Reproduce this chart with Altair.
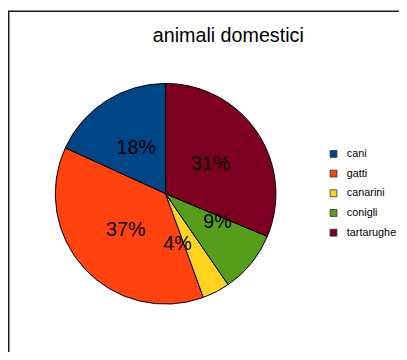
import altair as alt
import pandas as pd

# legend order
categories = ["cani", "gatti", "canarini", "conigli", "tartarughe"]
values = [18, 37, 4, 9, 31]
colors = ["#004586", "#ff420e", "#ffd320", "#579d1c", "#7e0021"]
# drawing order clockwise from 12 o'clock
draw_order = [5, 4, 3, 2, 1]

df = pd.DataFrame({"animale": categories, "valore": values, "ord": draw_order})

CX, CY, R = 160, 186, 112

base = alt.Chart(df).transform_joinaggregate(
    totale="sum(valore)"
).transform_calculate(
    pct="format(datum.valore / datum.totale, '.0%')"
)

theta = alt.Theta("valore:Q", stack=True)
order = alt.Order("ord:Q", sort="ascending")

pie = base.mark_arc(outerRadius=R, stroke="#000000", strokeWidth=1).encode(
    theta=theta,
    order=order,
    x=alt.value(CX),
    y=alt.value(CY),
    color=alt.Color(
        "animale:N",
        scale=alt.Scale(domain=categories, range=colors),
        sort=categories,
        legend=alt.Legend(
            title=None,
            orient="none",
            legendX=325,
            legendY=140,
            symbolType="square",
            symbolSize=49,
            symbolStrokeColor="#333333",
            symbolStrokeWidth=0.8,
            labelFont="Liberation Sans",
            labelFontSize=11,
            labelColor="#000000",
            labelOffset=8,
            rowPadding=8,
            padding=0,
        ),
    ),
)

# small label nudges (as LibreOffice moved the two narrow slices' labels apart)
labels = base.mark_text(
    radius=55, fontSize=20, font="Liberation Sans", color="#000000",
    align="center", baseline="middle",
    dx=alt.ExprRef("datum.animale === 'conigli' ? 10 : (datum.animale === 'canarini' ? -13 : 0)"),
    dy=alt.ExprRef("datum.animale === 'conigli' ? -6 : (datum.animale === 'canarini' ? 2 : 0)"),
).encode(
    theta=theta,
    order=order,
    x=alt.value(CX),
    y=alt.value(CY),
    text="pct:N",
)

border = alt.Chart(pd.DataFrame({"b": [0]})).mark_rect(
    fill=None, stroke="#1a1a1a", strokeWidth=1.5
).encode(
    x=alt.value(0.75), y=alt.value(0.75), x2=alt.value(800), y2=alt.value(800)
)

chart = alt.layer(border, pie, labels).properties(
    width=397,
    height=344,
    padding=0,
    autosize=alt.AutoSizeParams(type="none"),
    title=alt.TitleParams(
        "animali domestici",
        anchor="start",
        font="Liberation Sans",
        fontSize=20,
        fontWeight="normal",
        color="#000000",
        dx=147,
        dy=56,
        baseline="alphabetic",
    ),
).configure_view(stroke=None)

chart.save("out.html", embed_options={"renderer": "svg", "actions": False})
